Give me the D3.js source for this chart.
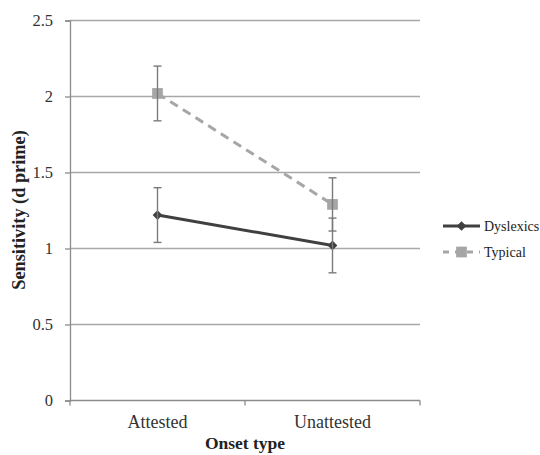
<!DOCTYPE html>
<html>
<head>
<meta charset="utf-8">
<script src="https://cdn.jsdelivr.net/npm/d3@7"></script>
<style>
  html, body { margin: 0; padding: 0; background: #ffffff; }
  svg { display: block; }
</style>
</head>
<body>
<svg id="chart" width="540" height="455"></svg>
<script>
const categories = ["Attested", "Unattested"];
const seriesNames = ["Dyslexics", "Typical"];
const dyslexicsValues = [1.22, 1.02];
const dyslexicsErrors = [0.18, 0.18];
const typicalValues = [2.02, 1.29];
const typicalErrors = [0.18, 0.175];
const yTicks = [0, 0.5, 1, 1.5, 2, 2.5];
const yTickLabels = ["0", "0.5", "1", "1.5", "2", "2.5"];

const svg = d3.select("#chart");
const serif = "'Liberation Serif', 'Times New Roman', serif";

const x = d3.scaleBand().domain(categories).range([70, 420]);
const y = d3.scaleLinear().domain([0, 2.5]).range([400.5, 20.5]);
const cx = c => x(c) + x.bandwidth() / 2;

// gridlines
svg.append("g").selectAll("line").data(yTicks.filter(t => t > 0)).join("line")
  .attr("x1", 70).attr("x2", 420)
  .attr("y1", d => y(d)).attr("y2", d => y(d))
  .attr("stroke", "#a8a8a8").attr("stroke-width", 1.3);

// y axis
const yAxis = d3.axisLeft(y).tickValues(yTicks)
  .tickFormat((d, i) => yTickLabels[i]).tickSize(5).tickPadding(12);
const gy = svg.append("g").attr("transform", "translate(70,0)").call(yAxis);
gy.select(".domain").attr("stroke", "#8c8c8c").attr("stroke-width", 1.3);
gy.selectAll(".tick line").attr("stroke", "#8c8c8c").attr("stroke-width", 1.3);
gy.selectAll(".tick text").attr("font-family", serif).attr("font-size", 16.5)
  .attr("fill", "#333");

// x axis
const gx = svg.append("g").attr("transform", "translate(0,400.5)");
gx.append("line").attr("x1", 70).attr("x2", 420).attr("y1", 0).attr("y2", 0)
  .attr("stroke", "#8c8c8c").attr("stroke-width", 1.3);
const bounds = [x.range()[0], ...categories.map(c => x(c) + x.bandwidth())];
gx.selectAll("line.tk").data(bounds).join("line").attr("class", "tk")
  .attr("x1", d => d).attr("x2", d => d).attr("y1", 0).attr("y2", 5)
  .attr("stroke", "#8c8c8c").attr("stroke-width", 1.3);
gx.selectAll("text").data(categories).join("text")
  .attr("x", d => cx(d)).attr("y", 27.5)
  .attr("text-anchor", "middle").attr("font-family", serif)
  .attr("font-size", 18).attr("fill", "#333").text(d => d);

// axis titles
svg.append("text").attr("x", 245).attr("y", 449).attr("text-anchor", "middle")
  .attr("font-family", serif).attr("font-weight", "bold").attr("font-size", 17.5)
  .attr("fill", "#222").text("Onset type");
svg.append("text").attr("transform", "translate(25,210) rotate(-90)")
  .attr("text-anchor", "middle").attr("font-family", serif)
  .attr("font-weight", "bold").attr("font-size", 18.3).attr("fill", "#222")
  .text("Sensitivity (d prime)");

const line = d3.line().x((d, i) => cx(categories[i])).y(d => y(d));

// Dyslexics line
svg.append("path").datum(dyslexicsValues).attr("d", line)
  .attr("fill", "none").attr("stroke", "#404040").attr("stroke-width", 3);
// Typical line
svg.append("path").datum(typicalValues).attr("d", line)
  .attr("fill", "none").attr("stroke", "#a6a6a6").attr("stroke-width", 3)
  .attr("stroke-dasharray", "9,6");

const diamond = d3.symbol().type(d3.symbolDiamond2).size(60);
const square = d3.symbol().type(d3.symbolSquare).size(115);

// markers
svg.append("g").selectAll("path").data(dyslexicsValues).join("path")
  .attr("d", diamond)
  .attr("transform", (d, i) => `translate(${cx(categories[i])},${y(d)})`)
  .attr("fill", "#404040");
svg.append("g").selectAll("path").data(typicalValues).join("path")
  .attr("d", square)
  .attr("transform", (d, i) => `translate(${cx(categories[i])},${y(d)})`)
  .attr("fill", "#a6a6a6");

// error bars
function errBars(vals, errs) {
  const g = svg.append("g").attr("stroke", "#7a7a7a").attr("stroke-width", 1.4);
  vals.forEach((v, i) => {
    const xc = cx(categories[i]);
    const lo = y(v - errs[i]), hi = y(v + errs[i]);
    g.append("line").attr("x1", xc).attr("x2", xc).attr("y1", lo).attr("y2", hi);
    g.append("line").attr("x1", xc - 4).attr("x2", xc + 4).attr("y1", lo).attr("y2", lo);
    g.append("line").attr("x1", xc - 4).attr("x2", xc + 4).attr("y1", hi).attr("y2", hi);
  });
}
errBars(dyslexicsValues, dyslexicsErrors);
errBars(typicalValues, typicalErrors);

// legend
const lg = svg.append("g");
const ly = [226, 252];
lg.append("line").attr("x1", 443).attr("x2", 480).attr("y1", ly[0]).attr("y2", ly[0])
  .attr("stroke", "#404040").attr("stroke-width", 3);
lg.append("path").attr("d", diamond).attr("transform", `translate(461.5,${ly[0]})`)
  .attr("fill", "#404040");
lg.append("line").attr("x1", 443).attr("x2", 480).attr("y1", ly[1]).attr("y2", ly[1])
  .attr("stroke", "#a6a6a6").attr("stroke-width", 3).attr("stroke-dasharray", "6,6");
lg.append("path").attr("d", square).attr("transform", `translate(461.5,${ly[1]})`)
  .attr("fill", "#a6a6a6");
lg.selectAll("text").data(seriesNames).join("text")
  .attr("x", 484).attr("y", (d, i) => ly[i] + 5)
  .attr("font-family", serif).attr("font-size", 14).attr("fill", "#222")
  .text(d => d);
</script>
</body>
</html>
